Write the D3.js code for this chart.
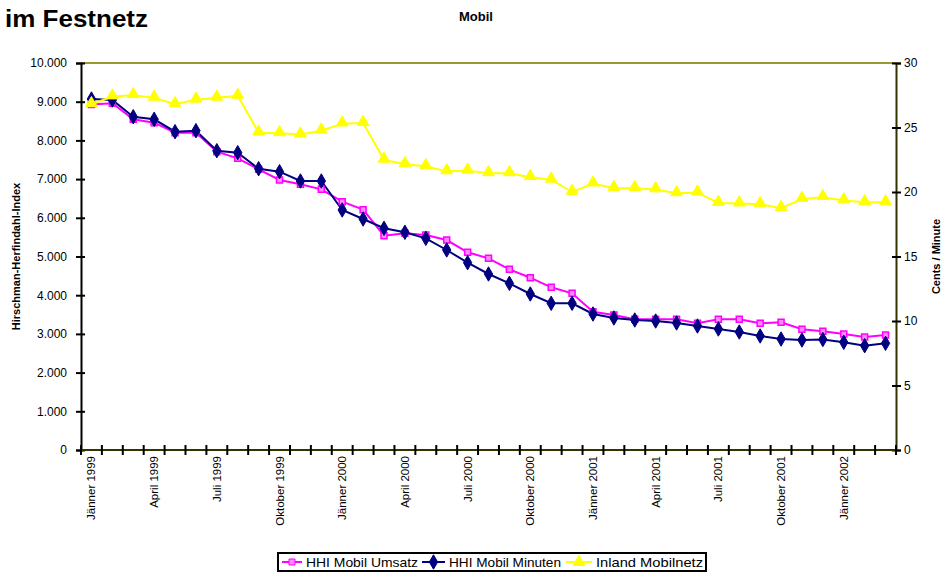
<!DOCTYPE html>
<html>
<head>
<meta charset="utf-8">
<script src="https://cdn.jsdelivr.net/npm/d3@7"></script>
<style>
  html, body { margin: 0; padding: 0; background: #fff; }
  svg { display: block; font-family: "Liberation Sans", Arial, sans-serif; }
</style>
</head>
<body>
<svg id="chart" width="943" height="572"></svg>
<script>
// ---- data ----
const months = ["Jänner","Februar","März","April","Mai","Juni","Juli","August","September","Oktober","November","Dezember"];
const categories = [];
for (let y = 1999; y <= 2002; y++) {
  for (let m = 0; m < 12; m++) {
    if (y === 2002 && m > 2) break;
    categories.push(months[m] + " " + y);
  }
}
const hhiUmsatz = [8930, 8960, 8545, 8457, 8199, 8199, 7708, 7537, 7253, 6977, 6866, 6736, 6416, 6210,
  5537, 5599, 5556, 5426, 5108, 4953, 4669, 4452, 4204, 4049, 3574, 3488, 3377, 3377, 3377, 3274,
  3377, 3377, 3274, 3300, 3119, 3067, 2997, 2920, 2972];
const hhiMinuten = [9070, 9044, 8612, 8545, 8225, 8251, 7734, 7682, 7269, 7191, 6951, 6951, 6202, 5969,
  5729, 5625, 5470, 5168, 4840, 4548, 4307, 4031, 3791, 3791, 3514, 3411, 3359, 3333, 3282, 3204,
  3127, 3049, 2946, 2868, 2842, 2855, 2783, 2695, 2757];
const inlandMobilnetz = [26.8, 27.4, 27.5, 27.3, 26.8, 27.15, 27.3, 27.45, 24.6, 24.55, 24.45, 24.75, 25.3, 25.35,
  22.5, 22.15, 22.0, 21.6, 21.65, 21.45, 21.45, 21.15, 20.95, 20.0, 20.65, 20.3, 20.3, 20.2, 19.9, 19.95,
  19.15, 19.1, 19.05, 18.75, 19.45, 19.6, 19.35, 19.2, 19.2];
const leftTicks = [0, 1000, 2000, 3000, 4000, 5000, 6000, 7000, 8000, 9000, 10000];
const rightTicks = [0, 5, 10, 15, 20, 25, 30];
const seriesNames = ["HHI Mobil Umsatz", "HHI Mobil Minuten", "Inland Mobilnetz"];

// ---- layout ----
const svg = d3.select("#chart");
const L = 81, R = 896, T = 63, B = 450;
const x = d3.scaleBand().domain(d3.range(categories.length)).range([L, R]).padding(0);
const cx = i => x(i) + x.bandwidth() / 2;
const yL = d3.scaleLinear().domain([0, 10000]).range([B, T]);
const yR = d3.scaleLinear().domain([0, 30]).range([B, T]);
const fmt = d => d3.format(",")(d).replace(/,/g, ".");

// titles
svg.append("text").attr("x", 5).attr("y", 27).attr("font-size", 24).attr("font-weight", "bold")
  .attr("textLength", 143).attr("lengthAdjust", "spacingAndGlyphs").text("im Festnetz");
svg.append("text").attr("x", 476).attr("y", 21).attr("text-anchor", "middle")
  .attr("font-size", 13).attr("font-weight", "bold").text("Mobil");

// top border line
svg.append("line").attr("x1", L).attr("x2", R).attr("y1", yL(10000)).attr("y2", yL(10000))
  .attr("stroke", "#999933").attr("stroke-width", 2);

// left axis
const gL = svg.append("g").attr("transform", `translate(${L},0)`)
  .call(d3.axisLeft(yL).tickValues(leftTicks).tickFormat(fmt).tickSize(5).tickPadding(9));
gL.select(".domain").attr("stroke", "#000").attr("stroke-width", 2);
gL.selectAll(".tick line").attr("x2", -5).attr("x1", 4).attr("stroke", "#000").attr("stroke-width", 2);
gL.selectAll(".tick text").attr("font-size", 12).attr("font-family", "Liberation Sans, Arial").attr("fill", "#000");

// right axis
const gR = svg.append("g").attr("transform", `translate(${R},0)`)
  .call(d3.axisRight(yR).tickValues(rightTicks).tickSize(5).tickPadding(3));
gR.select(".domain").attr("stroke", "#333300").attr("stroke-width", 2);
gR.selectAll(".tick line").attr("x1", -4).attr("x2", 5).attr("stroke", "#000").attr("stroke-width", 2);
gR.selectAll(".tick text").attr("font-size", 12).attr("font-family", "Liberation Sans, Arial").attr("fill", "#000");

// bottom axis
const gB = svg.append("g");
gB.append("line").attr("x1", L).attr("x2", R).attr("y1", B).attr("y2", B)
  .attr("stroke", "#333300").attr("stroke-width", 2);
const bounds = d3.range(categories.length + 1).map(i => i < categories.length ? x(i) : x(i - 1) + x.bandwidth());
gB.selectAll("line.xt").data(bounds).join("line").attr("class", "xt")
  .attr("x1", d => d).attr("x2", d => d).attr("y1", B - 5).attr("y2", B + 5)
  .attr("stroke", "#000").attr("stroke-width", 2);
gB.selectAll("text.xl").data(categories.map((c, i) => ({c, i})).filter(d => d.i % 3 === 0))
  .join("text").attr("class", "xl")
  .attr("transform", d => `translate(${cx(d.i) + 4},${B + 6}) rotate(-90)`)
  .attr("text-anchor", "end").attr("font-size", 11.5).text(d => d.c);

// axis titles
svg.append("text").attr("transform", `translate(20,${(T + B) / 2}) rotate(-90)`)
  .attr("text-anchor", "middle").attr("font-size", 11).attr("font-weight", "bold")
  .text("Hirschman-Herfindahl-Index");
svg.append("text").attr("transform", `translate(940,${(T + B) / 2}) rotate(-90)`)
  .attr("text-anchor", "middle").attr("font-size", 11).attr("font-weight", "bold")
  .text("Cents / Minute");

// series
const lineL = d3.line().x((d, i) => cx(i)).y(d => yL(d));
const lineR = d3.line().x((d, i) => cx(i)).y(d => yR(d));

svg.append("path").datum(hhiUmsatz).attr("d", lineL).attr("fill", "none").attr("stroke", "#ff00ff").attr("stroke-width", 2);
svg.append("path").datum(hhiMinuten).attr("d", lineL).attr("fill", "none").attr("stroke", "#000080").attr("stroke-width", 2);
svg.append("path").datum(inlandMobilnetz).attr("d", lineR).attr("fill", "none").attr("stroke", "#ffff00").attr("stroke-width", 2);

const sq = d3.symbol().type(d3.symbolSquare).size(36);
const dia = d3.symbol().type(d3.symbolDiamond).size(60);
const tri = d3.symbol().type(d3.symbolTriangle).size(60);

svg.selectAll("path.mU").data(hhiUmsatz).join("path").attr("class", "mU")
  .attr("transform", (d, i) => `translate(${cx(i)},${yL(d)})`).attr("d", sq)
  .attr("fill", "#ff88ff").attr("stroke", "#ff00ff").attr("stroke-width", 1.5);
svg.selectAll("path.mM").data(hhiMinuten).join("path").attr("class", "mM")
  .attr("transform", (d, i) => `translate(${cx(i)},${yL(d)})`).attr("d", dia)
  .attr("fill", "#000080").attr("stroke", "#000080").attr("stroke-width", 1);
svg.selectAll("path.mI").data(inlandMobilnetz).join("path").attr("class", "mI")
  .attr("transform", (d, i) => `translate(${cx(i)},${yR(d) - 1})`).attr("d", tri)
  .attr("fill", "#ffff00").attr("stroke", "#ffff00").attr("stroke-width", 1);

// legend
const lg = svg.append("g");
lg.append("rect").attr("x", 278).attr("y", 553).attr("width", 428).attr("height", 18)
  .attr("fill", "#fff").attr("stroke", "#000").attr("stroke-width", 2);
const items = [
  {name: seriesNames[0], color: "#ff00ff", sym: sq, x0: 282, tx: 306, fill: "#ff88ff", w: 112},
  {name: seriesNames[1], color: "#000080", sym: dia, x0: 422, tx: 449, fill: "#000080", w: 112},
  {name: seriesNames[2], color: "#ffff00", sym: tri, x0: 566, tx: 596, fill: "#ffff00", w: 107}
];
items.forEach(it => {
  const ly = 562;
  lg.append("line").attr("x1", it.x0).attr("x2", it.tx - 4).attr("y1", ly).attr("y2", ly)
    .attr("stroke", it.color).attr("stroke-width", 2);
  lg.append("path").attr("transform", `translate(${(it.x0 + it.tx - 4) / 2},${ly})`)
    .attr("d", it.sym).attr("fill", it.fill).attr("stroke", it.color);
  lg.append("text").attr("x", it.tx).attr("y", ly + 5).attr("font-size", 13)
    .attr("textLength", it.w).attr("lengthAdjust", "spacingAndGlyphs").text(it.name);
});
</script>
</body>
</html>
